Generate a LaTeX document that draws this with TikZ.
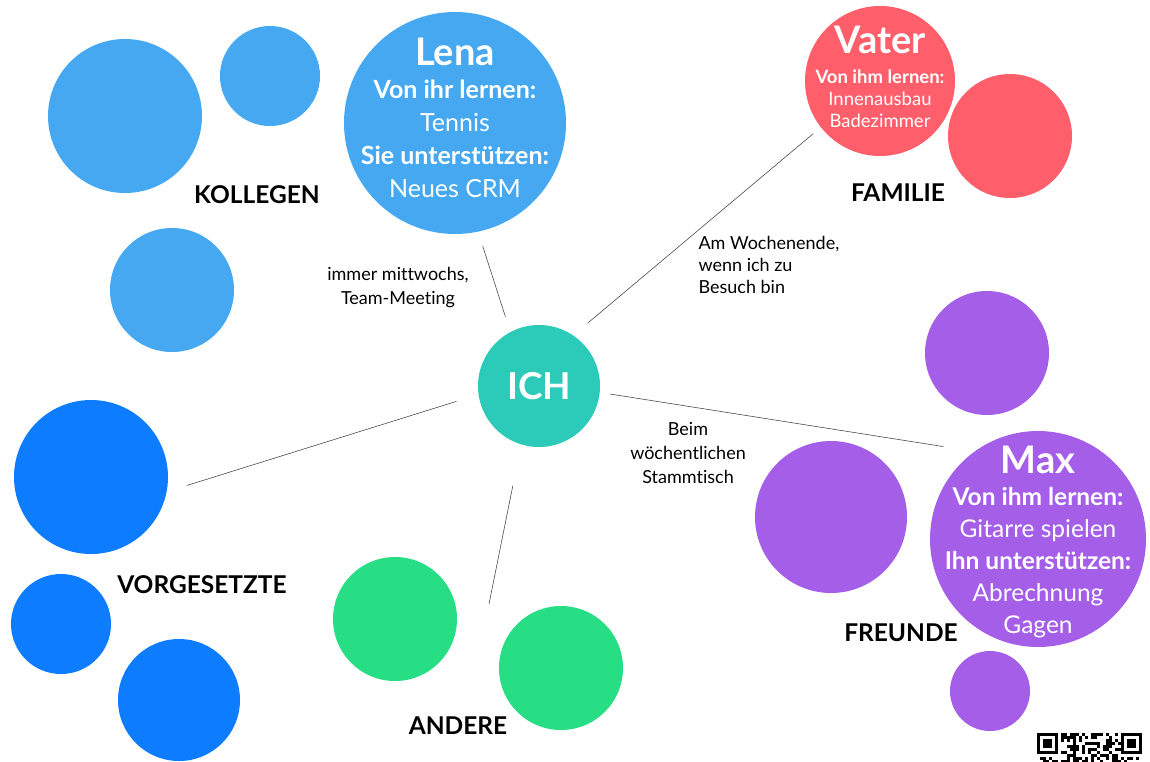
\documentclass[tikz,border=0pt]{standalone}
\usepackage{fontspec}
\setmainfont{Lato}[Ligatures=NoCommon]
\definecolor{kollegenhell}{HTML}{45A8F0}
\definecolor{chefblau}{HTML}{0D7CFF}
\definecolor{familienrot}{HTML}{FF5E6A}
\definecolor{freundelila}{HTML}{A45EE8}
\definecolor{anderegruen}{HTML}{27DE84}
\definecolor{ichtuerkis}{HTML}{2CCBB9}
\begin{document}
\begin{tikzpicture}[x=1pt, y=-1pt,
    blob/.style={circle, inner sep=0pt, minimum size=#1, text=white, align=center},
    inhalt/.style={text=white, align=center, inner sep=0pt},
    gruppe/.style={font=\fontsize{24.5}{28}\selectfont\bfseries},
    notiz/.style={font=\fontsize{18}{24}\selectfont, align=center},
    link/.style={draw=black!70, line width=0.6pt}]

    \fill[white] (0, 0) rectangle (1150, 761);
    \useasboundingbox (0, 0) rectangle (1150, 761);

    % Kollegen
    \node[blob=154pt, fill=kollegenhell] (kollege1) at (125, 116) {};
    \node[blob=100pt, fill=kollegenhell] (kollege2) at (270, 76) {};
    \node[blob=124pt, fill=kollegenhell] (kollege3) at (172, 290) {};
    \node[blob=222pt, fill=kollegenhell] (lena) at (455, 123) {};
    \node[inhalt, font=\fontsize{25}{33}\selectfont] (lena-text) at (455, 118)
        {{\fontsize{38}{33}\selectfont\bfseries Lena}\\ {\bfseries Von ihr lernen:}\\ Tennis\\
         {\bfseries Sie unterstützen:}\\ Neues CRM};
    \node[gruppe] (kollegen) at (257, 195) {KOLLEGEN};

    % Familie
    \node[blob=150pt, fill=familienrot] (vater) at (880, 81) {};
    \node[inhalt, font=\fontsize{18.5}{22}\selectfont] (vater-text) at (880, 77)
        {{\fontsize{38}{22}\selectfont\bfseries Vater}\\[8pt] {\bfseries Von ihm lernen:}\\ Innenausbau\\ Badezimmer};
    \node[blob=124pt, fill=familienrot] (familie2) at (1010, 136) {};
    \node[gruppe] (familie) at (898, 193) {FAMILIE};

    % Freunde
    \node[blob=124pt, fill=freundelila] (freund1) at (987, 353) {};
    \node[blob=152pt, fill=freundelila] (freund2) at (831, 517) {};
    \node[blob=80pt, fill=freundelila] (freund3) at (990, 691) {};
    \node[blob=216pt, fill=freundelila] (max) at (1038, 539) {};
    \node[inhalt, font=\fontsize{24.5}{32}\selectfont] (max-text) at (1038, 542)
        {{\fontsize{38}{32}\selectfont\bfseries Max}\\ {\bfseries Von ihm lernen:}\\ Gitarre spielen\\
         {\bfseries Ihn unterstützen:}\\ Abrechnung\\ Gagen};
    \node[gruppe] (freunde) at (901, 633) {FREUNDE};

    % Vorgesetzte
    \node[blob=154pt, fill=chefblau] (boss1) at (91, 477) {};
    \node[blob=100pt, fill=chefblau] (boss2) at (61, 624) {};
    \node[blob=122pt, fill=chefblau] (boss3) at (179, 700) {};
    \node[gruppe] (vorgesetzte) at (202, 585) {VORGESETZTE};

    % Andere
    \node[blob=124pt, fill=anderegruen] (anders1) at (395, 619) {};
    \node[blob=124pt, fill=anderegruen] (anders2) at (561, 668) {};
    \node[gruppe] (andere) at (458, 726) {ANDERE};

    % Mitte
    \node[blob=122pt, fill=ichtuerkis, font=\fontsize{37}{40}\selectfont\bfseries] (ich) at (539, 386) {ICH};
    \coordinate (andere-ende) at (489, 604);

    \draw[link, shorten <=16pt, shorten >=15pt] (ich.118) -- (lena.-78);
    \draw[link, shorten <=19pt, shorten >=10pt] (ich.56) -- (vater.-142);
    \draw[link, shorten <=23pt, shorten >=21pt] (ich.-172) -- (boss1.-11);
    \draw[link, shorten <=42pt] (ich.-107) -- (andere-ende);
    \draw[link, shorten <=10.5pt, shorten >=31.5pt] (ich.-6) -- (max.126);

    \node[notiz] (mittwochs) at (398, 288) {immer mittwochs,\\Team-Meeting};
    \node[notiz, align=left, anchor=west, font=\fontsize{18}{22}\selectfont] (wochenende) at (695, 265) {Am Wochenende,\\wenn ich zu\\Besuch bin};
    \node[notiz] (stammtisch) at (688, 453) {Beim\\wöchentlichen\\Stammtisch};

    % QR-Code
    \begin{scope}[shift={(1037, 733)}]
        \foreach \qx in {0, 84} {
            \fill (\qx, 0) rectangle ++(21, 21);
            \fill[white] (\qx+3, 3) rectangle ++(15, 15);
            \fill (\qx+6, 6) rectangle ++(9, 9);
        }
        \pgfmathsetseed{11}
        \foreach \i in {8,...,27} {
            \foreach \j in {0,...,9} {
                \pgfmathrandominteger{\bit}{0}{1}
                \ifnum\bit=1 \fill (3*\i, 3*\j) rectangle ++(3, 3); \fi
            }
        }
        \foreach \i in {0,...,7,28,29,...,34} {
            \foreach \j in {8, 9} {
                \pgfmathrandominteger{\bit}{0}{1}
                \ifnum\bit=1 \fill (3*\i, 3*\j) rectangle ++(3, 3); \fi
            }
        }
    \end{scope}

\end{tikzpicture}
\end{document}
